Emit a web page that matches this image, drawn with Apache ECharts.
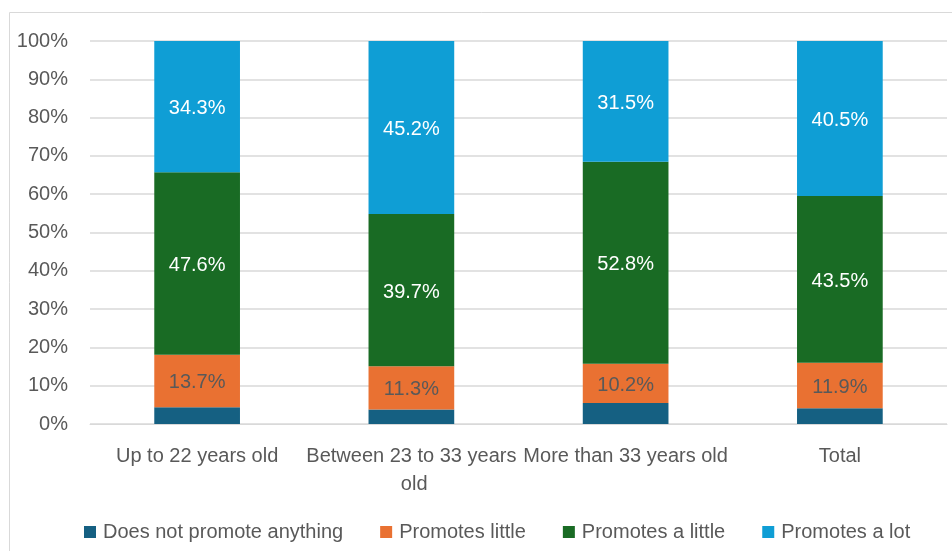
<!DOCTYPE html>
<html><head><meta charset="utf-8">
<script src="https://cdn.jsdelivr.net/npm/echarts@6/dist/echarts.min.js"></script>
<style>html,body{margin:0;padding:0;background:#fff}#c{width:952px;height:551px}</style>
</head><body><div id="c"></div>
<script>
const categories = ['Up to 22 years old', 'Between 23 to 33 years old', 'More than 33 years old', 'Total'];
const seriesNames = ['Does not promote anything', 'Promotes little', 'Promotes a little', 'Promotes a lot'];
const notAnything = [4.4, 3.8, 5.5, 4.1];
const little = [13.7, 11.3, 10.2, 11.9];
const aLittle = [47.6, 39.7, 52.8, 43.5];
const aLot = [34.3, 45.2, 31.5, 40.5];
const yTicks = [0, 10, 20, 30, 40, 50, 60, 70, 80, 90, 100];

const colors = ['#156082', '#e97132', '#196b24', '#0f9ed5'];
const labelColors = [null, '#595959', '#ffffff', '#ffffff'];
const allData = [notAnything, little, aLittle, aLot];
const font = 'Liberation Sans, Arial, sans-serif';

const chart = echarts.init(document.getElementById('c'));
chart.setOption({
  animation: false,
  color: colors,
  graphic: [{type: 'rect', shape: {x: 9.5, y: 12.5, width: 960, height: 560}, style: {fill: 'none', stroke: '#d9d9d9', lineWidth: 1}, silent: true}],
  grid: {left: 90, right: 5, top: 41, bottom: 127, containLabel: false},
  legend: {
    bottom: 4, left: 79, itemWidth: 12, itemHeight: 12, itemGap: 37, icon: 'rect',
    textStyle: {fontFamily: font, fontSize: 20, color: '#595959', padding: [0, 0, 0, 2]},
    data: seriesNames
  },
  xAxis: {
    type: 'category', data: categories,
    axisLine: {lineStyle: {color: '#d9d9d9'}}, axisTick: {show: false},
    axisLabel: {fontFamily: font, fontSize: 20, color: '#595959', margin: 18, width: 214, overflow: 'break', lineHeight: 28, interval: 0}
  },
  yAxis: {
    type: 'value', min: 0, max: 100, interval: 10,
    axisLabel: {formatter: v => yTicks.includes(v) ? v + '%' : '', fontFamily: font, fontSize: 20, color: '#595959', margin: 22},
    splitLine: {lineStyle: {color: '#d9d9d9', width: 1.5}},
    axisLine: {show: false}, axisTick: {show: false}
  },
  series: allData.map((d, i) => ({
    name: seriesNames[i], type: 'bar', stack: 'all', barWidth: '40%', data: d,
    label: {show: i > 0, position: 'inside', offset: [0, 2], formatter: p => p.value.toFixed(1) + '%', fontFamily: font, fontSize: 20, color: labelColors[i] || '#fff'}
  }))
});
</script></body></html>
